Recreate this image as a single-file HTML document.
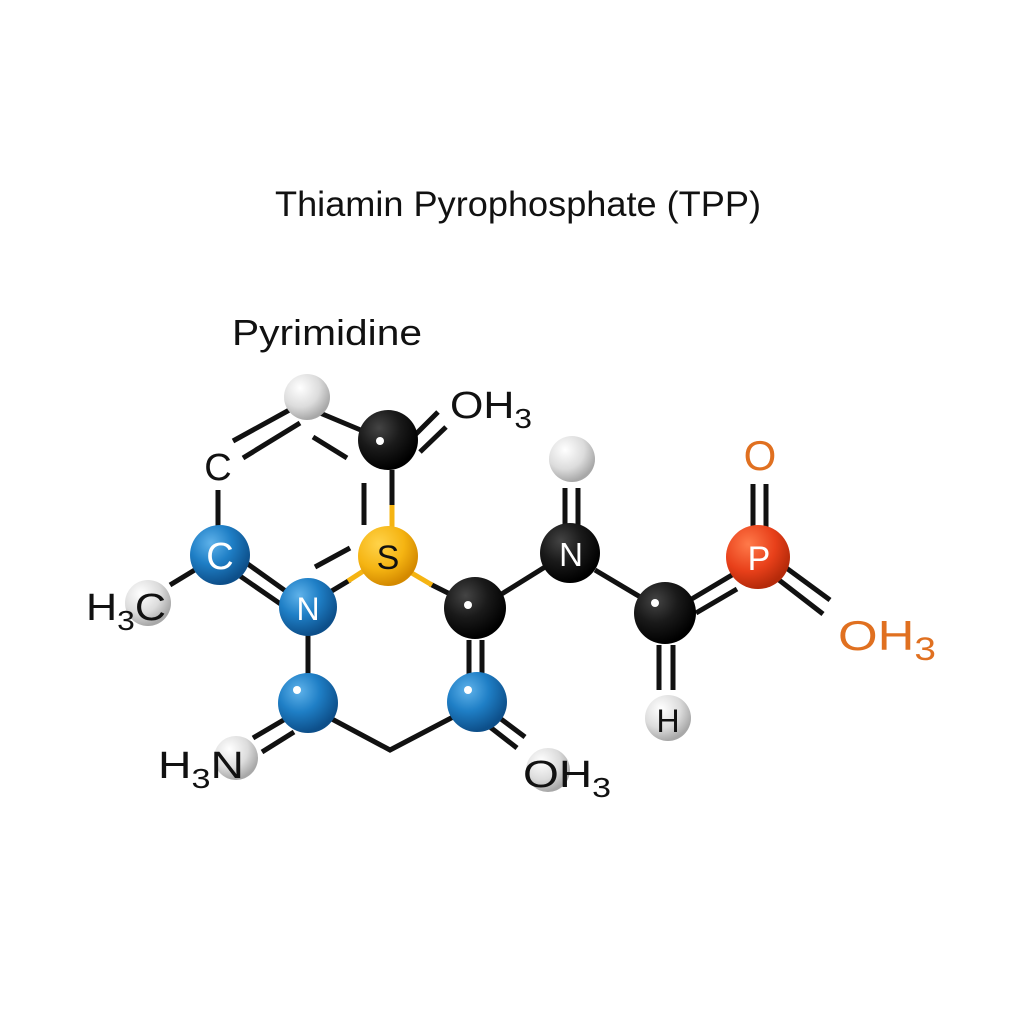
<!DOCTYPE html>
<html><head><style>
html,body{margin:0;padding:0;background:#fff;}
svg{display:block;}
text{font-family:"Liberation Sans",Arial,sans-serif;}
</style></head><body>
<svg width="1024" height="1024" viewBox="0 0 1024 1024" xmlns="http://www.w3.org/2000/svg">
<defs>
<radialGradient id="gb" cx="35%" cy="30%" r="70%"><stop offset="0" stop-color="#5fb2ea"/><stop offset="0.5" stop-color="#1f7fc6"/><stop offset="1" stop-color="#0d4f8a"/></radialGradient>
<radialGradient id="gk" cx="35%" cy="30%" r="70%"><stop offset="0" stop-color="#444"/><stop offset="0.5" stop-color="#1a1a1a"/><stop offset="1" stop-color="#000"/></radialGradient>
<radialGradient id="gg" cx="35%" cy="30%" r="70%"><stop offset="0" stop-color="#ffffff"/><stop offset="0.6" stop-color="#dcdcdc"/><stop offset="1" stop-color="#a8a8a8"/></radialGradient>
<radialGradient id="gy" cx="35%" cy="30%" r="70%"><stop offset="0" stop-color="#ffd34a"/><stop offset="0.6" stop-color="#f5b412"/><stop offset="1" stop-color="#d48a00"/></radialGradient>
<radialGradient id="gr" cx="35%" cy="30%" r="70%"><stop offset="0" stop-color="#ff7a4a"/><stop offset="0.6" stop-color="#e8401a"/><stop offset="1" stop-color="#b52a0a"/></radialGradient>
</defs>
<text x="518" y="216" font-size="35" text-anchor="middle" fill="#111" textLength="486" lengthAdjust="spacingAndGlyphs">Thiamin Pyrophosphate (TPP)</text>
<text x="232" y="345" font-size="36" fill="#111" textLength="190" lengthAdjust="spacingAndGlyphs">Pyrimidine</text>

<g stroke="#111" stroke-width="5" fill="none" stroke-linecap="butt">
<line x1="218" y1="490" x2="218" y2="526"/>
<line x1="233" y1="441" x2="293" y2="408"/>
<line x1="243" y1="458" x2="300" y2="423"/>
<line x1="320" y1="413" x2="375" y2="436"/>
<line x1="313" y1="437" x2="347" y2="458"/>
<line x1="413" y1="437" x2="438" y2="412"/>
<line x1="420" y1="452" x2="446" y2="427"/>
<line x1="392" y1="470" x2="392" y2="508"/>
<line x1="364" y1="483" x2="364" y2="525"/>
<line x1="245" y1="562" x2="287" y2="592"/>
<line x1="240" y1="576" x2="282" y2="605"/>
<line x1="315" y1="567" x2="350" y2="548"/>
<line x1="330" y1="592" x2="350" y2="580"/>
<line x1="170" y1="585" x2="198" y2="568"/>
<line x1="308" y1="635" x2="308" y2="674"/>
<line x1="253" y1="738" x2="287" y2="718"/>
<line x1="262" y1="752" x2="294" y2="732"/>
<polyline points="330,718 390,750 455,716"/>
<line x1="469" y1="640" x2="469" y2="675"/>
<line x1="482" y1="640" x2="482" y2="675"/>
<line x1="430" y1="584" x2="452" y2="595"/>
<line x1="500" y1="595" x2="545" y2="567"/>
<line x1="565" y1="488" x2="565" y2="525"/>
<line x1="578" y1="488" x2="578" y2="525"/>
<line x1="595" y1="570" x2="642" y2="598"/>
<line x1="690" y1="600" x2="732" y2="575"/>
<line x1="696" y1="613" x2="737" y2="589"/>
<line x1="659" y1="645" x2="659" y2="690"/>
<line x1="673" y1="645" x2="673" y2="690"/>
<line x1="753" y1="484" x2="753" y2="530"/>
<line x1="766" y1="484" x2="766" y2="530"/>
<line x1="785" y1="567" x2="830" y2="600"/>
<line x1="779" y1="580" x2="823" y2="614"/>
<line x1="497" y1="716" x2="525" y2="737"/>
<line x1="490" y1="727" x2="517" y2="748"/>
</g>
<g stroke="#f5b412" stroke-width="5">
<line x1="392" y1="505" x2="392" y2="530"/>
<line x1="348" y1="581" x2="365" y2="570"/>
<line x1="410" y1="572" x2="432" y2="585"/>
</g>

<circle cx="307" cy="397" r="23" fill="url(#gg)"/>
<circle cx="148" cy="603" r="23" fill="url(#gg)"/>
<circle cx="572" cy="459" r="23" fill="url(#gg)"/>
<circle cx="668" cy="718" r="23" fill="url(#gg)"/>
<circle cx="236" cy="758" r="22" fill="url(#gg)"/>
<circle cx="548" cy="770" r="22" fill="url(#gg)"/>
<circle cx="220" cy="555" r="30" fill="url(#gb)"/>
<circle cx="308" cy="607" r="29" fill="url(#gb)"/>
<circle cx="308" cy="703" r="30" fill="url(#gb)"/>
<circle cx="477" cy="702" r="30" fill="url(#gb)"/>
<circle cx="388" cy="556" r="30" fill="url(#gy)"/>
<circle cx="388" cy="440" r="30" fill="url(#gk)"/>
<circle cx="475" cy="608" r="31" fill="url(#gk)"/>
<circle cx="570" cy="553" r="30" fill="url(#gk)"/>
<circle cx="665" cy="613" r="31" fill="url(#gk)"/>
<circle cx="758" cy="557" r="32" fill="url(#gr)"/>
<g fill="#fff">
<circle cx="380" cy="441" r="4"/><circle cx="468" cy="605" r="4"/><circle cx="655" cy="603" r="4"/>
<circle cx="297" cy="690" r="4"/><circle cx="468" cy="690" r="4"/>
</g>

<g font-size="38" fill="#111">
<text x="218" y="480" text-anchor="middle">C</text>
<text x="220" y="569" text-anchor="middle" fill="#fff">C</text>
<text x="308" y="620" text-anchor="middle" fill="#fff" font-size="32">N</text>
<text x="388" y="569" text-anchor="middle" font-size="34">S</text>
<text x="571" y="566" text-anchor="middle" fill="#fff" font-size="33">N</text>
<text x="759" y="570" text-anchor="middle" fill="#fff" font-size="34">P</text>
<text x="668" y="732" text-anchor="middle" font-size="32">H</text>
<text x="86" y="620" textLength="80" lengthAdjust="spacingAndGlyphs">H<tspan font-size="28" dy="10">3</tspan><tspan dy="-10">C</tspan></text>
<text x="158" y="778" textLength="86" lengthAdjust="spacingAndGlyphs">H<tspan font-size="28" dy="10">3</tspan><tspan dy="-10">N</tspan></text>
<text x="450" y="418" textLength="82" lengthAdjust="spacingAndGlyphs">OH<tspan font-size="28" dy="10">3</tspan></text>
<text x="523" y="787" textLength="88" lengthAdjust="spacingAndGlyphs">OH<tspan font-size="28" dy="10">3</tspan></text>
</g>
<g font-size="42" fill="#e07020">
<text x="760" y="470" text-anchor="middle">O</text>
<text x="838" y="650" textLength="98" lengthAdjust="spacingAndGlyphs">OH<tspan font-size="32" dy="10">3</tspan></text>
</g>
</svg>
</body></html>
